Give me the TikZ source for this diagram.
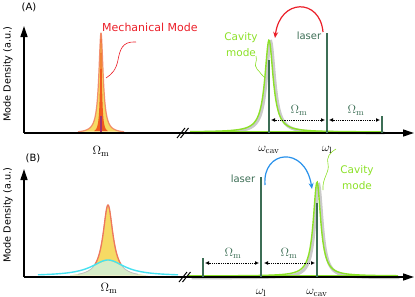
\documentclass[tikz,border=0pt]{standalone}
\usepackage[no-math]{fontspec}
\newfontfamily\lab{DejaVu Sans}
\usetikzlibrary{arrows.meta}
\definecolor{dgreen}{RGB}{60,110,85}
\definecolor{lgreen}{RGB}{140,225,40}
\definecolor{mechY}{RGB}{246,218,100}
\definecolor{mechO}{RGB}{240,120,90}
\definecolor{coreO}{RGB}{240,90,30}
\definecolor{cyanc}{RGB}{70,225,240}
\definecolor{mixg}{RGB}{214,236,200}
\definecolor{redarr}{RGB}{235,30,40}
\definecolor{bluearr}{RGB}{40,145,235}
\tikzset{
 ax/.style={line width=1.3pt, black},
 axarr/.style={ax, -{Triangle[width=7pt,length=11pt]}},
 dgline/.style={draw=dgreen, line width=1.6pt},
 omarr/.style={densely dotted, line width=0.8pt, {Latex[length=4pt,width=4pt]}-{Latex[length=4pt,width=4pt]}},
 txt/.style={font=\lab\fontsize{10}{11}\selectfont, inner sep=0pt},
 mtxt/.style={font=\fontsize{13}{14}\selectfont, inner sep=0pt},
 cav/.style={draw=lgreen, line width=1.4pt},
 shad/.style={draw=black!35, line width=3pt, opacity=0.6},
 brk/.style={line width=1pt, black},
}
\begin{document}
\begin{tikzpicture}[x=1pt,y=-1pt]
\useasboundingbox (0,0) rectangle (415,297);
% ================= Panel A =================
\node[txt] (labA) at (29,7) {(A)};
\node[txt, rotate=90, font=\lab\fontsize{9.7}{11}\selectfont] (ylA) at (8,74) {Mode Density (a.u.)};
% mechanical mode
\fill[mechY] plot[domain=78:124,samples=200] (\x,{133-100/(1+((\x-101)/2.6)^2)}) -- cycle;
\draw[mechO, line width=1.2pt, opacity=0.8] plot[domain=78:124,samples=200] (\x,{133-100/(1+((\x-101)/2.6)^2)});
\fill[coreO] plot[domain=94:108,samples=150] (\x,{133-100/(1+((\x-101)/1.0)^2)}) -- cycle;
\coordinate (pA1) at (101,116);
\coordinate (pA2) at (101,133);
\draw[draw={rgb,255:red,160;green,50;blue,110}, line width=1.6pt] (pA1) -- (pA2);
\node[txt, text=redarr, font=\lab\fontsize{11}{12}\selectfont, anchor=west] (mech) at (102,27) {Mechanical Mode};
\coordinate (cmA1) at (136,42);
\coordinate (cmA2) at (106,78);
\draw[redarr, line width=0.6pt] (cmA1) .. controls (122,41) and (120,50) .. (118,60) .. controls (116,70) and (112,74) .. (cmA2);
% cavity mode
\draw[shad] plot[domain=192:383,samples=300] (\x+1.5,{133-92/(1+((\x-269)/5)^2)});
\draw[cav] plot[domain=190:383,samples=300] (\x,{132-92/(1+((\x-269)/5)^2)});
% axes
\coordinate (oA) at (24,133);
\coordinate (yA) at (24,26);
\coordinate (xA) at (414,133);
\draw[axarr] (oA) -- (yA);
\draw[ax] (oA) -- (190,133);
\draw[axarr] (188,133) -- (xA);
\draw[brk] (177,138) -- (185,128);
\draw[brk] (180.5,138) -- (188.5,128);
% green baseline over axis
\draw[lgreen, line width=1.4pt] (190,131.6) -- (383,131.6);
% lines
\coordinate (cvA) at (269,60);
\coordinate (cvA0) at (269,133);
\coordinate (lsA) at (327,33);
\coordinate (lsA0) at (327,133);
\coordinate (tkA) at (382,116);
\coordinate (tkA0) at (382,133);
\draw[dgline] (cvA) -- (cvA0);
\draw[dgline] (lsA) -- (lsA0);
\draw[dgline] (tkA) -- (tkA0);
\coordinate (a1l) at (271,120);
\coordinate (a1r) at (325,120);
\coordinate (a2l) at (329,120);
\coordinate (a2r) at (380,120);
\draw[omarr] (a1l) -- (a1r);
\draw[omarr] (a2l) -- (a2r);
\node[mtxt, text=dgreen] (omA1) at (299,110) {$\Omega_{\mathrm{m}}$};
\node[mtxt, text=dgreen] (omA2) at (356,110) {$\Omega_{\mathrm{m}}$};
\node[txt, text=dgreen] (laserA) at (309,36) {laser};
\node[txt, text=lgreen, align=center, font=\lab\fontsize{10.5}{16}\selectfont] (cavA) at (241,45) {Cavity\\mode};
\coordinate (ccA1) at (256,56);
\coordinate (ccA2) at (265,78);
\draw[lgreen, line width=0.6pt] (ccA1) .. controls (258,62) and (253,64) .. (257,69) .. controls (261,73) and (262,76) .. (ccA2);
\coordinate (rs) at (323,32);
\coordinate (re) at (275,38);
\draw[redarr, line width=1.2pt, -{Stealth[length=6pt,width=5pt]}] (rs) .. controls (320,-2) and (280,-2) .. (re);
\node[mtxt] (wcavA) at (269,150) {$\omega_{\mathrm{cav}}$};
\node[mtxt] (wlA) at (327,150) {$\omega_{\mathrm{l}}$};
\node[mtxt] (OmA) at (101,151) {$\Omega_{\mathrm{m}}$};
% ================= Panel B =================
\node[txt] (labB) at (33,158) {(B)};
\node[txt, rotate=90, font=\lab\fontsize{9.7}{11}\selectfont] (ylB) at (8,215) {Mode Density (a.u.)};
% mechanical B
\fill[mechY] plot[domain=70:148,samples=250] (\x,{277-72/(1+((\x-108)/6)^2)}) -- cycle;
\fill[mixg] plot[domain=70:148,samples=250] (\x,{277-min(72/(1+((\x-108)/6)^2),16/(1+((\x-108)/20)^2))}) -- cycle;
\draw[black!25, line width=0.8pt] plot[domain=78:138,samples=200] (\x,{277-72/(1+((\x-108)/6)^2)});
\draw[mechO, line width=1.3pt] plot[domain=95:121,samples=200] (\x,{277-72/(1+((\x-108)/6)^2)});
\draw[cyanc, line width=1.4pt] plot[domain=38:178,samples=250] (\x,{276-16/(1+((\x-108)/20)^2)});
% cavity B
\draw[shad] plot[domain=190:398,samples=300] (\x+1.5,{278-94/(1+((\x-317)/4.5)^2)});
\draw[cav] plot[domain=188:398,samples=300] (\x,{276-94/(1+((\x-317)/4.5)^2)});
% axes B
\coordinate (oB) at (24,277);
\coordinate (yB) at (24,169);
\coordinate (xB) at (414,277);
\draw[axarr] (oB) -- (yB);
\draw[ax] (oB) -- (190,277);
\draw[axarr] (188,277) -- (xB);
\draw[brk] (179,282) -- (187,272);
\draw[brk] (182.5,282) -- (190.5,272);
\draw[lgreen, line width=1.4pt] (192,275.6) -- (398,275.6);
\coordinate (tkB) at (203,258);
\coordinate (tkB0) at (203,277);
\coordinate (lsB) at (261,177);
\coordinate (lsB0) at (261,277);
\coordinate (cvB) at (317,203);
\coordinate (cvB0) at (317,277);
\draw[dgline] (tkB) -- (tkB0);
\draw[dgline] (lsB) -- (lsB0);
\draw[dgline] (cvB) -- (cvB0);
\coordinate (b1l) at (205,263);
\coordinate (b1r) at (259,263);
\coordinate (b2l) at (264,263);
\coordinate (b2r) at (315,263);
\draw[omarr] (b1l) -- (b1r);
\draw[omarr] (b2l) -- (b2r);
\node[mtxt, text=dgreen] (omB1) at (233,253) {$\Omega_{\mathrm{m}}$};
\node[mtxt, text=dgreen] (omB2) at (289,253) {$\Omega_{\mathrm{m}}$};
\node[txt, text=dgreen] (laserB) at (243,179) {laser};
\node[txt, text=lgreen, align=center, font=\lab\fontsize{10.5}{16}\selectfont] (cavB) at (357,178) {Cavity\\mode};
\coordinate (ccB1) at (336,149);
\coordinate (ccB2) at (323,190);
\draw[lgreen, line width=0.6pt] (ccB1) .. controls (330,152) and (326,158) .. (328,164) .. controls (330,172) and (322,178) .. (ccB2);
\coordinate (bs) at (265,185);
\coordinate (be) at (312,189);
\draw[bluearr, line width=1.2pt, -{Stealth[length=6pt,width=5pt]}] (bs) .. controls (262,150) and (305,145) .. (be);
\node[mtxt] (wlB) at (261,293) {$\omega_{\mathrm{l}}$};
\node[mtxt] (wcavB) at (317,293) {$\omega_{\mathrm{cav}}$};
\node[mtxt] (OmB) at (109,288) {$\Omega_{\mathrm{m}}$};
\end{tikzpicture}
\end{document}
